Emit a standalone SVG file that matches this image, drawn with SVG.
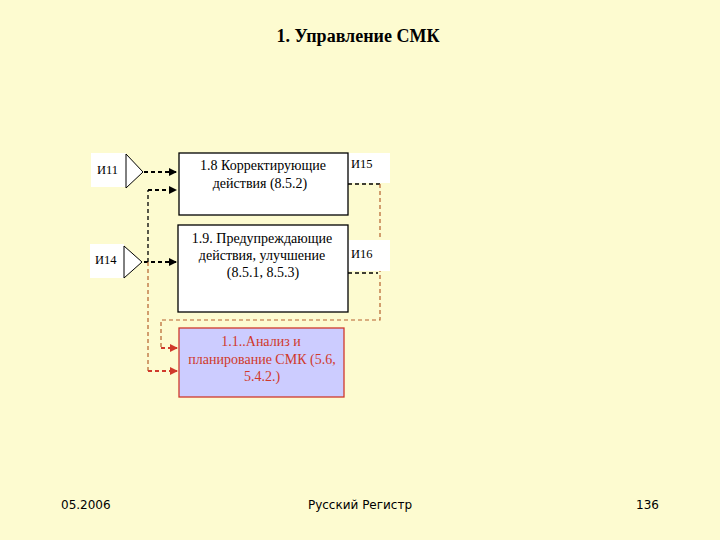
<svg xmlns="http://www.w3.org/2000/svg" width="720" height="540" viewBox="0 0 720 540" font-family="'Liberation Serif', 'DejaVu Serif', serif">
<defs>
<style>
.t{font-size:14px;text-anchor:middle}
.lbl{fill:#fff;stroke:none}
.box{fill:#fff;stroke:#000;stroke-width:1.3}
.tri{fill:#fff;stroke:#000;stroke-width:1}
.bk{fill:none;stroke:#000;stroke-width:2;stroke-dasharray:4,3}
.bk1{fill:none;stroke:#000;stroke-width:1.3;stroke-dasharray:4,3}
.br{fill:none;stroke:#B5602E;stroke-width:1.2;stroke-dasharray:4,3}
.rd{fill:none;stroke:#D0392B;stroke-width:2;stroke-dasharray:4,3}
.ft{font-size:12px}
</style>
<marker id="ab" markerWidth="8" markerHeight="8" refX="7" refY="4" orient="auto" markerUnits="userSpaceOnUse"><path d="M0,0 L8,4 L0,8 z" fill="#000"/></marker>
<marker id="ar" markerWidth="8" markerHeight="8" refX="7" refY="4" orient="auto" markerUnits="userSpaceOnUse"><path d="M0,0 L8,4 L0,8 z" fill="#D0392B"/></marker>
</defs>
<rect width="720" height="540" fill="#FDFBD0"/>
<text x="358" y="42" font-family="'Liberation Serif', serif" font-size="18" font-weight="bold" text-anchor="middle">1. Управление СМК</text>

<g id="connectors">
<path class="bk" d="M137,172 H176" marker-end="url(#ab)"/>
<path class="bk" d="M137,262 H176" marker-end="url(#ab)"/>
<path class="bk1" d="M148,262 V190"/>
<path class="bk" d="M148,190 H176" marker-end="url(#ab)"/>
<path class="br" d="M148,262 V371"/>
<path class="rd" d="M148,371 H177" marker-end="url(#ar)"/>
<path class="bk1" d="M348,184 H380"/>
<path class="bk1" d="M348,273 H378"/>
<path class="br" d="M380,184 V320 H161 V348"/>
<path class="rd" d="M161,348 H177" marker-end="url(#ar)"/>
</g>

<g id="i11">
<rect class="lbl" x="91" y="153" width="35" height="34"/>
<polygon class="tri" points="126,154 143,172 126,188"/>
<text x="97" y="174" font-family="'Liberation Serif', serif" font-size="12.5">И11</text>
</g>
<g id="i14">
<rect class="lbl" x="90" y="244" width="34" height="34"/>
<polygon class="tri" points="124,246 142,262 124,278"/>
<text x="95" y="264" font-family="'Liberation Serif', serif" font-size="12.5">И14</text>
</g>
<g id="i15">
<rect class="lbl" x="348" y="153" width="42" height="30"/>
<text x="351" y="168" font-family="'Liberation Serif', serif" font-size="12.5">И15</text>
</g>
<g id="i16">
<rect class="lbl" x="348" y="240" width="42" height="31"/>
<text x="351" y="258" font-family="'Liberation Serif', serif" font-size="12.5">И16</text>
</g>

<g id="n18" font-family="'Liberation Serif', serif">
<rect class="box" x="179" y="153" width="169" height="62"/>
<text class="t" x="263" y="170">1.8 Корректирующие</text>
<text class="t" x="260" y="188">действия  (8.5.2)</text>
</g>
<g id="n19" font-family="'Liberation Serif', serif">
<rect class="box" x="178" y="225" width="170" height="87"/>
<text class="t" x="262" y="243">1.9. Предупреждающие</text>
<text class="t" x="262" y="260">действия, улучшение</text>
<text class="t" x="263" y="277">(8.5.1, 8.5.3)</text>
</g>
<g id="n11" font-family="'Liberation Serif', serif">
<rect x="179" y="328" width="165" height="69" fill="#CCCCFF" stroke="#D0392B" stroke-width="1.3"/>
<text class="t" x="261" y="346" fill="#D0392B">1.1..Анализ и</text>
<text class="t" x="262" y="364" fill="#D0392B">планирование  СМК (5.6,</text>
<text class="t" x="262" y="381" fill="#D0392B">5.4.2.)</text>
</g>

<g font-family="'DejaVu Sans', Verdana, sans-serif">
<text class="ft" x="61" y="509">05.2006</text>
<text class="ft" x="360" y="509" text-anchor="middle">Русский Регистр</text>
<text class="ft" x="659" y="509" text-anchor="end">136</text>
</g>
</svg>
